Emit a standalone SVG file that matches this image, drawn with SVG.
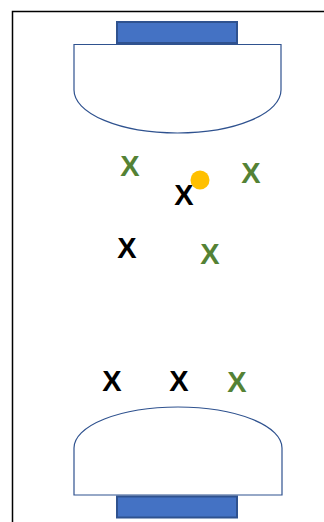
<svg xmlns="http://www.w3.org/2000/svg" width="324" height="522" viewBox="0 0 324 522">
<style>
.frame{fill:none;stroke:#000;stroke-width:1.5}
.box{fill:#fff;stroke:#2F528F;stroke-width:1.2}
.goal{fill:#4472C4;stroke:#2F528F;stroke-width:2}
.x{font-family:"Liberation Sans",Arial,sans-serif;font-weight:bold;font-size:29px;text-anchor:middle}
.g{fill:#548235}
.k{fill:#000}
</style>
<rect width="324" height="522" fill="#fff"/>
<g id="frame"><path class="frame" d="M12.5,522 V11.5 H324"/></g>
<g id="top-area"><path class="box" d="M74,44.5 H281 V90 A103.5 43 0 0 1 74,90 Z"/></g>
<g id="top-goal"><rect class="goal" x="117" y="22" width="120" height="21"/></g>
<g id="bottom-area"><path class="box" d="M74,495 V448 A104 41 0 0 1 282,448 V495 Z"/></g>
<g id="bottom-goal"><rect class="goal" x="117" y="496.5" width="120" height="21"/></g>
<g id="players">
<g id="g1"><text class="x g" x="130" y="175.5">X</text></g>
<g id="k1"><text class="x k" x="184" y="205">X</text></g>
<g id="g2"><text class="x g" x="251" y="182.5">X</text></g>
<g id="k2"><text class="x k" x="127" y="257.5">X</text></g>
<g id="g3"><text class="x g" x="210" y="263.5">X</text></g>
<g id="k3"><text class="x k" x="112" y="391">X</text></g>
<g id="k4"><text class="x k" x="179" y="391">X</text></g>
<g id="g4"><text class="x g" x="237" y="392">X</text></g>
</g>
<g id="ball"><circle cx="200" cy="180" r="9.5" fill="#FFC000"/></g>
<g id="connectors"></g>
</svg>
